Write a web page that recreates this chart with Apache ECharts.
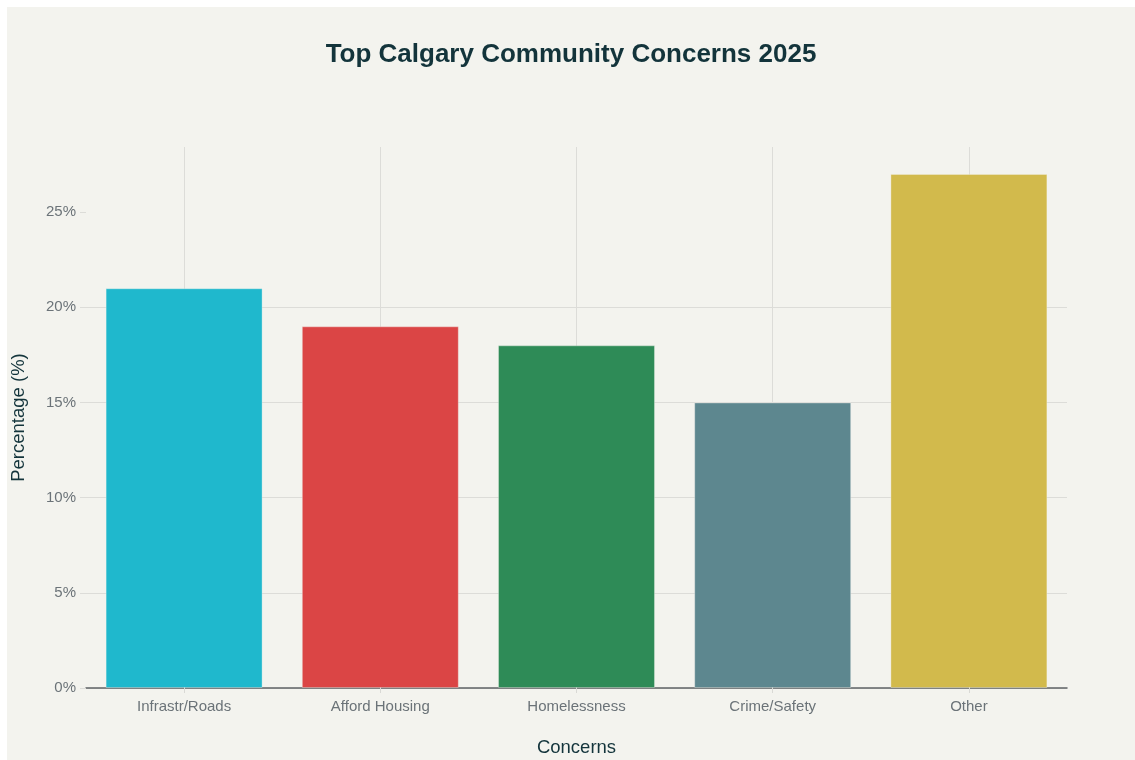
<!DOCTYPE html>
<html>
<head>
<meta charset="utf-8">
<script src="https://cdn.jsdelivr.net/npm/echarts@6/dist/echarts.min.js"></script>
<style>
  html, body { margin: 0; padding: 0; background: #ffffff; }
  #chart { position: absolute; left: 7px; top: 7px; width: 1128px; height: 753px; background: #F3F3EE; }
</style>
</head>
<body>
<div id="chart"></div>
<script>
const categories = ['Infrastr/Roads', 'Afford Housing', 'Homelessness', 'Crime/Safety', 'Other'];
const values = [21, 19, 18, 15, 27];
const colors = ['#1FB8CD', '#DB4545', '#2E8B57', '#5D878F', '#D2BA4C'];
const yTicks = [0, 5, 10, 15, 20, 25];

const chart = echarts.init(document.getElementById('chart'), null, { renderer: 'canvas' });
const yMax = Math.max(...values) * 1.0526;
const font = 'Liberation Sans, Arial, sans-serif';

chart.setOption({
  backgroundColor: '#F3F3EE',
  animation: false,
  title: {
    text: 'Top Calgary Community Concerns 2025',
    left: 'center',
    top: 30,
    textStyle: { fontFamily: font, fontSize: 26, fontWeight: 'bold', color: '#13343B' }
  },
  grid: { left: 79, right: 68, top: 140, bottom: 72, containLabel: false, outerBoundsMode: 'none' },
  xAxis: {
    type: 'category',
    data: categories,
    name: 'Concerns',
    nameLocation: 'middle',
    nameGap: 50,
    nameTextStyle: { fontFamily: font, fontSize: 18.5, color: '#13343B' },
    axisLine: { show: true, lineStyle: { color: '#5f6366', width: 1.5 } },
    axisTick: { show: true, alignWithLabel: true, length: 5, lineStyle: { color: '#d9d9d5' } },
    axisLabel: { fontFamily: font, fontSize: 15, color: '#6b7378', margin: 11 },
    splitLine: { show: false }
  },
  yAxis: {
    type: 'value',
    min: 0,
    max: yMax,
    interval: 5,
    name: 'Percentage (%)',
    nameLocation: 'middle',
    nameGap: 58,
    nameTextStyle: { fontFamily: font, fontSize: 18.5, color: '#13343B' },
    axisLine: { show: false },
    axisTick: { show: true, length: 6, customValues: yTicks, lineStyle: { color: '#dcdcd8' } },
    axisLabel: { fontFamily: font, fontSize: 15, color: '#6b7378', margin: 10, customValues: yTicks, formatter: '{value}%' },
    splitLine: { show: true, showMaxLine: false, lineStyle: { color: '#dcdcd8', width: 1 } }
  },
  series: [
    {
      type: 'line',
      data: [],
      z: 1,
      silent: true,
      markLine: {
        z: 1,
        silent: true,
        symbol: ['none', 'none'],
        label: { show: false },
        lineStyle: { color: '#dcdcd8', type: 'solid', width: 1 },
        data: categories.map(c => ({ xAxis: c }))
      }
    },
    {
      type: 'bar',
      z: 3,
      barWidth: '80%',
      data: values.map((v, i) => ({
        value: v,
        itemStyle: { color: colors[i], borderColor: 'rgba(243,243,238,0.35)', borderWidth: 1 }
      }))
    }
  ]
});
</script>
</body>
</html>
